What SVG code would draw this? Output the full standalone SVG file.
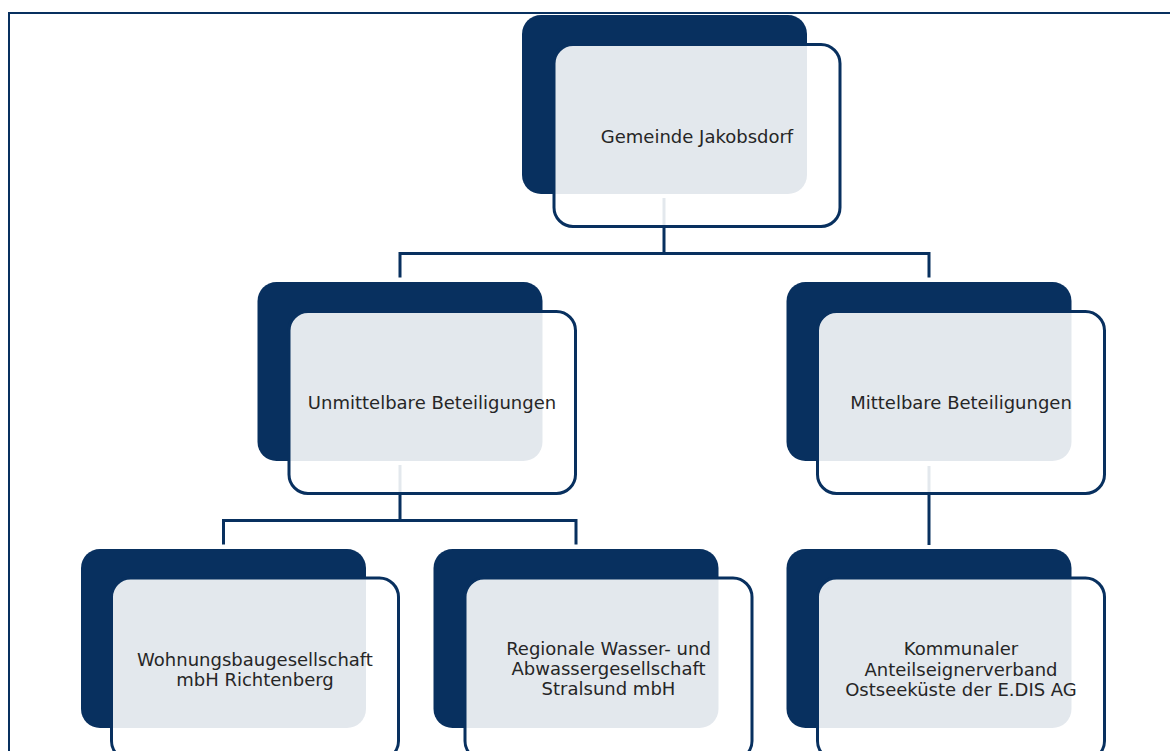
<svg xmlns="http://www.w3.org/2000/svg" width="1170" height="751" viewBox="0 0 1170 751">
<style>
.dark{fill:#08305f}
.front{fill:#ffffff;fill-opacity:0.89;stroke:#08305f;stroke-width:3}
.conn{fill:none;stroke:#08305f;stroke-width:3}
.lbl{font-family:"DejaVu Sans","Liberation Sans",sans-serif;font-size:18px;fill:#262626;text-anchor:middle}
</style>
<rect x="0" y="0" width="1170" height="751" fill="#ffffff"/>
<rect x="9" y="13" width="1200" height="800" fill="none" stroke="#08305f" stroke-width="2"/>
<g id="connectors">
<path class="conn" d="M664,198 V253.5 M400,253.5 H929 M400,252 V277.5 M929,252 V277.5"/>
<path class="conn" d="M400,465 V520.5 M223.5,520.5 H576 M223.5,519 V544.5 M576,519 V544.5"/>
<path class="conn" d="M929,466 V545"/>
</g>
<g id="node-gemeinde">
<rect class="dark" x="522" y="15" width="285" height="179" rx="19"/>
<rect class="front" x="554" y="44.5" width="286" height="182" rx="19"/>
<text class="lbl" x="697" y="142.5">Gemeinde Jakobsdorf</text>
</g>
<g id="node-unmittelbar">
<rect class="dark" x="257.5" y="282" width="285" height="179" rx="19"/>
<rect class="front" x="289" y="311.5" width="286.5" height="182" rx="19"/>
<text class="lbl" x="432" y="409">Unmittelbare Beteiligungen</text>
</g>
<g id="node-mittelbar">
<rect class="dark" x="786.5" y="282" width="285" height="179" rx="19"/>
<rect class="front" x="817.5" y="311.5" width="287" height="182" rx="19"/>
<text class="lbl" x="961" y="408.5">Mittelbare Beteiligungen</text>
</g>
<g id="node-wohnungsbau">
<rect class="dark" x="81" y="549" width="285" height="179" rx="19"/>
<rect class="front" x="111.5" y="578" width="287" height="182" rx="19"/>
<text class="lbl" x="255" y="665.5">Wohnungsbaugesellschaft</text>
<text class="lbl" x="255" y="685.7">mbH Richtenberg</text>
</g>
<g id="node-wasser">
<rect class="dark" x="433.5" y="549" width="285" height="179" rx="19"/>
<rect class="front" x="465" y="578" width="287" height="182" rx="19"/>
<text class="lbl" x="608.5" y="654.5">Regionale Wasser- und</text>
<text class="lbl" x="608.5" y="675">Abwassergesellschaft</text>
<text class="lbl" x="608.5" y="695.3">Stralsund mbH</text>
</g>
<g id="node-kommunal">
<rect class="dark" x="786.5" y="549" width="285" height="179" rx="19"/>
<rect class="front" x="817.5" y="578" width="287" height="182" rx="19"/>
<text class="lbl" x="961" y="655">Kommunaler</text>
<text class="lbl" x="961" y="675.5">Anteilseignerverband</text>
<text class="lbl" x="961" y="695.7">Ostseeküste der E.DIS AG</text>
</g>
</svg>
